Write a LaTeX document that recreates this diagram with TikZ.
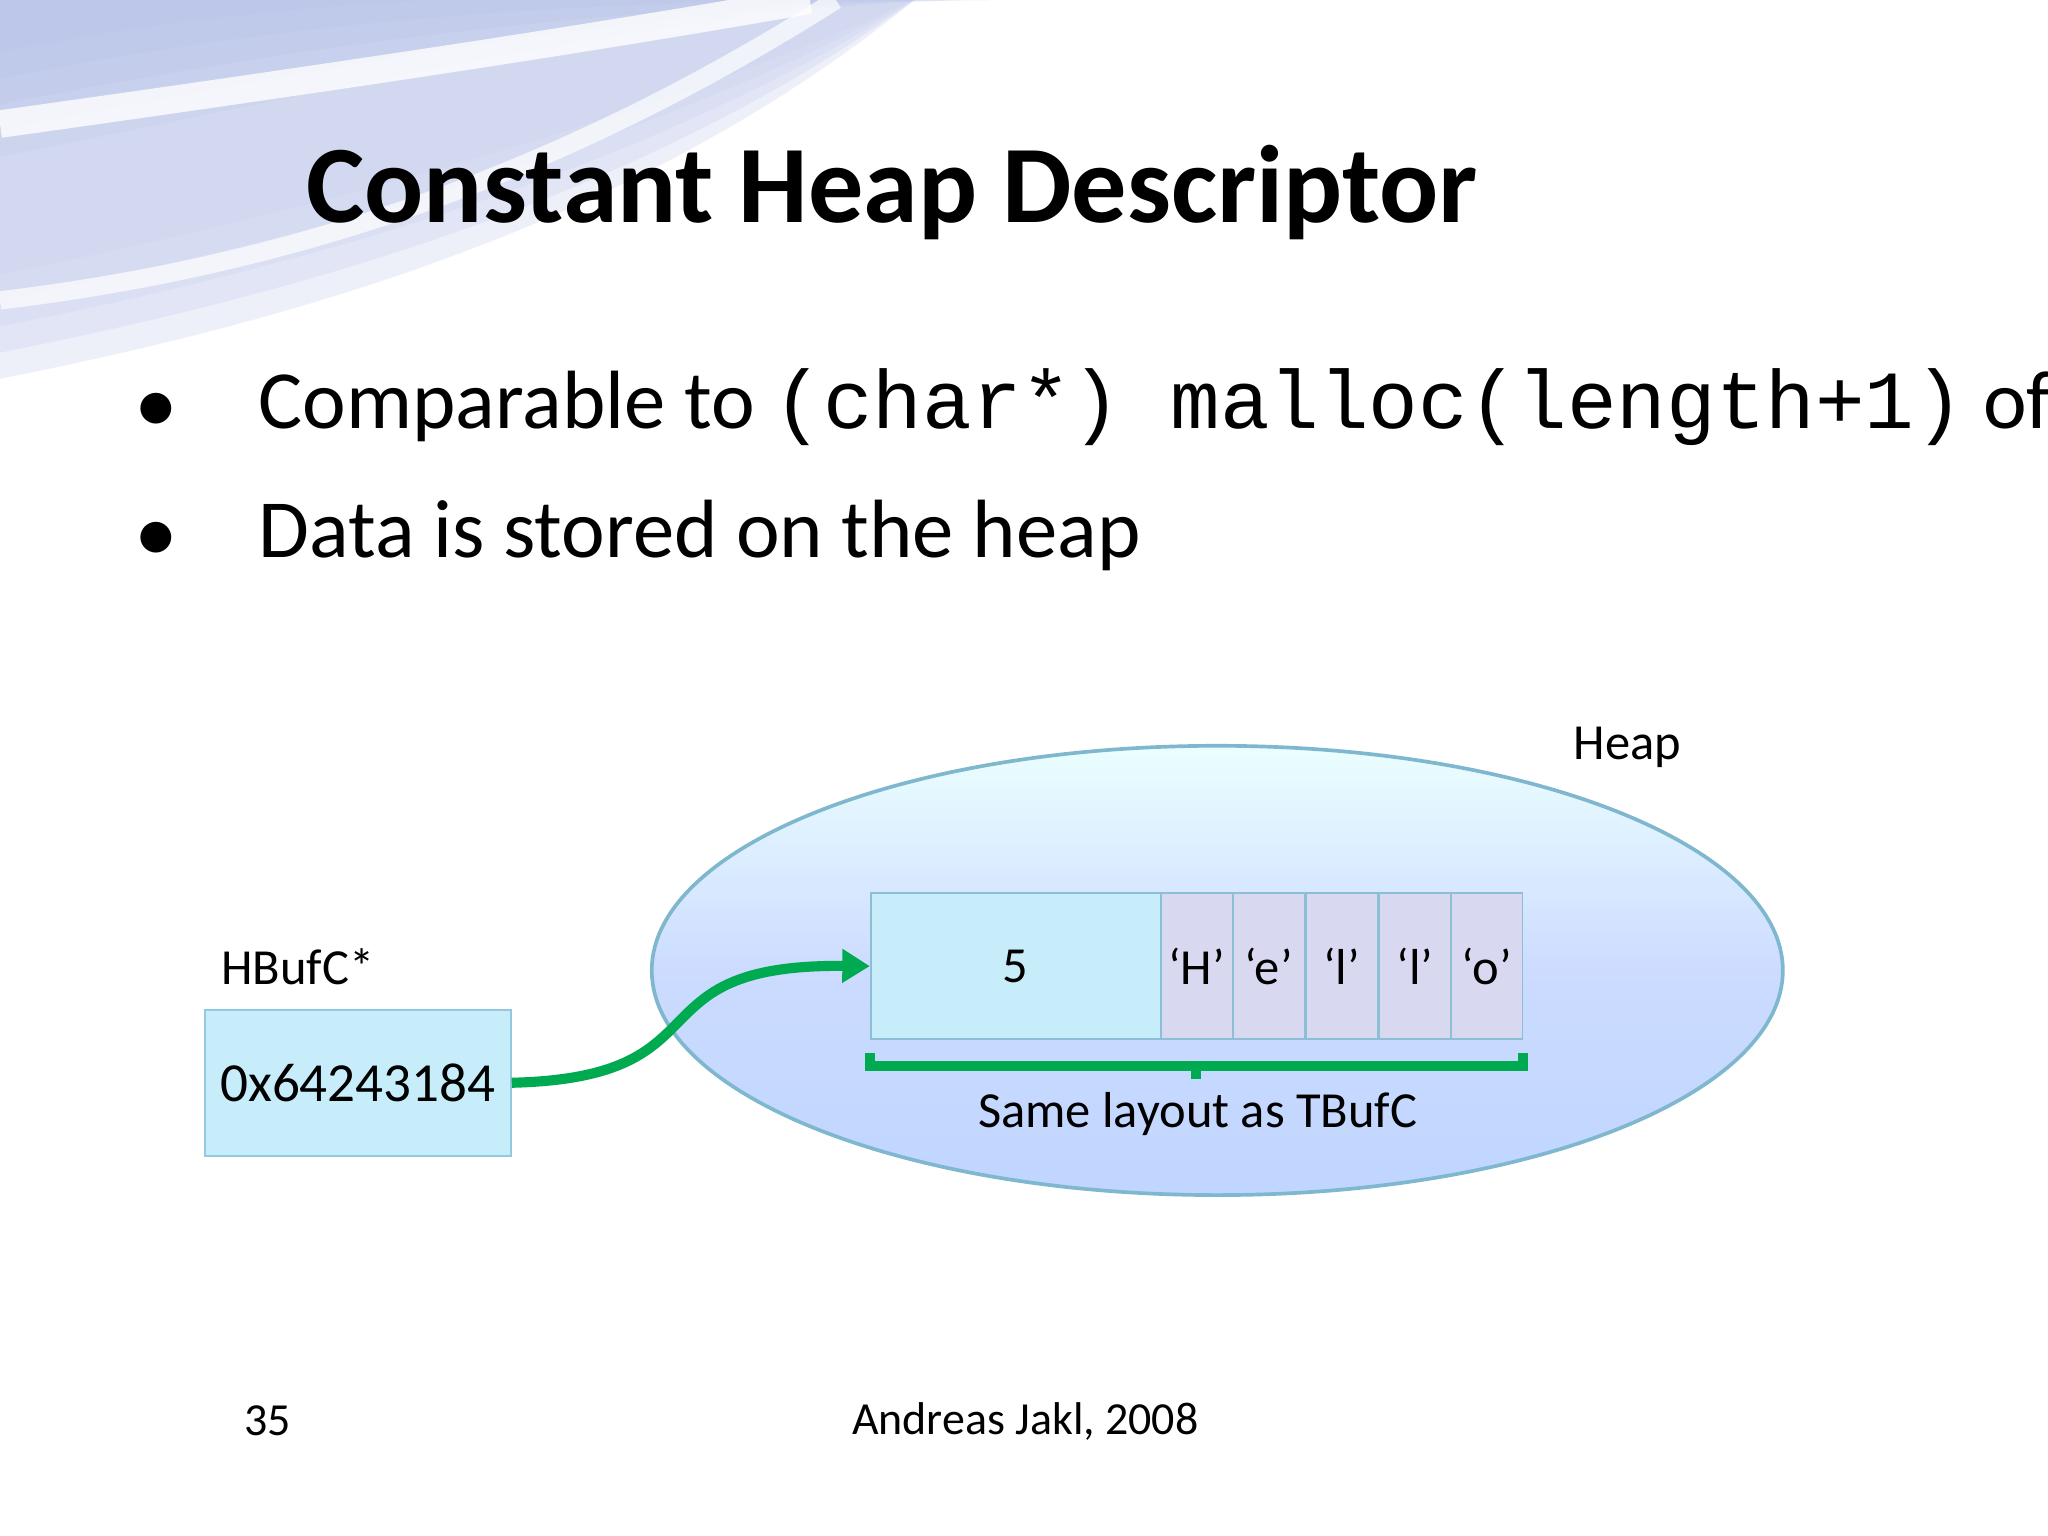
\documentclass[tikz,border=0pt]{standalone}
\usepackage{fontspec}
\setmainfont{Carlito}
\setmonofont{Liberation Mono}
\usetikzlibrary{arrows.meta}
\begin{document}
\begin{tikzpicture}[x=0.01cm,y=-0.01cm,
  cell/.style={draw=cyan!50!gray!70,fill=cyan!25!blue!15,minimum height=112*0.01cm,inner sep=0pt,anchor=north west,font=\fontsize{11}{13}\selectfont},
  lbl/.style={font=\fontsize{11}{13}\selectfont},
  grn/.style={draw={rgb,255:red,0;green,170;blue,80},line width=2.2pt}]
\useasboundingbox (0,0) rectangle (1568,1176);
\fill[white] (0,0) rectangle (1568,1176);
% swoosh background
\foreach \i/\o in {0/0.35,20/0.3,40/0.25,60/0.2,80/0.15}{
  \fill[cyan!40!blue!30,opacity=\o] (0,40+\i) .. controls (300,-20+\i) and (550,0) .. (760,0) -- (0,0) -- cycle;
  \fill[cyan!40!blue!25,opacity=\o*0.8] (0,290-\i) .. controls (200,250-\i) and (480,180-\i) .. (700,0) -- (0,0) -- cycle;
}
\draw[white,line width=6pt,opacity=0.8] (0,95) .. controls (250,60) and (450,30) .. (620,0);
\draw[white,line width=4pt,opacity=0.7] (0,230) .. controls (250,200) and (450,120) .. (640,0);
% title
\node[anchor=west,font=\bfseries\fontsize{24}{28}\selectfont] (title) at (222,147) {Constant Heap Descriptor};
% bullets
\node[anchor=west,font=\fontsize{18}{22}\selectfont] (b1) at (92,312) {$\bullet$\hspace{18pt}Comparable to {\ttfamily (char*) malloc(length+1)} of C};
\node[anchor=west,font=\fontsize{18}{22}\selectfont] (b2) at (92,410) {$\bullet$\hspace{18pt}Data is stored on the heap};
% heap ellipse
\shade[top color=white!92!cyan,bottom color=cyan!35!blue!25,middle color=cyan!30!blue!20,draw=cyan!50!gray!80,line width=0.8pt] (932,743) ellipse [x radius=433,y radius=172];
\node[lbl] (heap) at (1246,572) {Heap};
% boxes
\node[cell,fill=cyan!22,minimum width=222*0.01cm] (five) at (666,683) {5};
\foreach \x/\t/\n in {888/{‘H’}/c1,943/{‘e’}/c2,999/{‘l’}/c3,1055/{‘l’}/c4,1110/{‘o’}/c5}
  \node[cell,minimum width=55*0.01cm] (\n) at (\x,683) {\t};
% bracket
\draw[grn] (666,806) -- (666,816) -- (1166,816) -- (1166,806);
\draw[grn] (916,816) -- (916,826);
\node[lbl] (same) at (917,853) {Same layout as TBufC};
% pointer
\node[lbl] (hb) at (228,740) {HBufC*};
\node[draw=cyan!60!gray!60,fill=cyan!22,minimum width=224*0.01cm,minimum height=112*0.01cm,font=\fontsize{12}{14}\selectfont] (ptr) at (274,829) {0x64243184};
\draw[grn,-{Triangle[length=6pt,width=7pt]}] (ptr.east) .. controls (560,825) and (480,738) .. (five.west);
% footer
\node[font=\fontsize{10}{12}\selectfont] (num) at (205,1088) {35};
\node[font=\fontsize{10}{12}\selectfont] (auth) at (785,1088) {Andreas Jakl, 2008};
\end{tikzpicture}
\end{document}
